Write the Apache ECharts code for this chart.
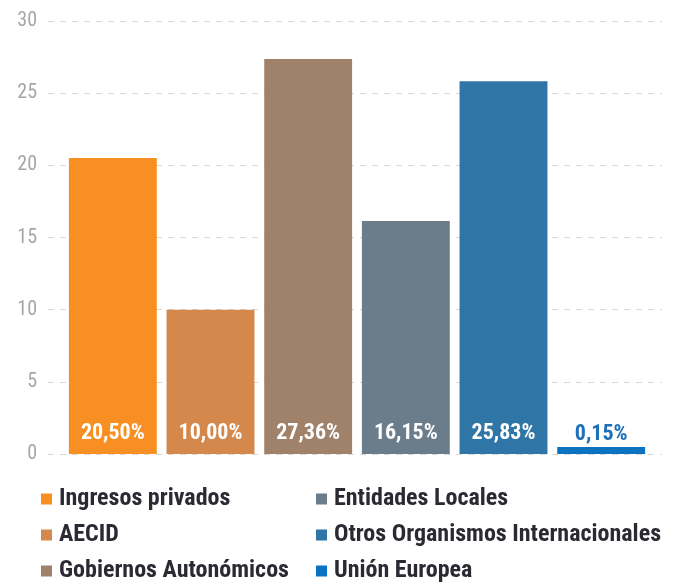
<!DOCTYPE html>
<html><head><meta charset="utf-8">
<script src="https://cdn.jsdelivr.net/npm/echarts@6/dist/echarts.min.js"></script>
<style>html,body{margin:0;padding:0;background:#fff}#c{width:684px;height:585px}</style>
</head><body><div id="c"></div>
<script>
var categories = ['Ingresos privados','AECID','Gobiernos Autonómicos','Entidades Locales','Otros Organismos Internacionales','Unión Europea'];
var values = [20.50, 10.00, 27.36, 16.15, 25.83, 0.15];
var labels = ['20,50%','10,00%','27,36%','16,15%','25,83%','0,15%'];
var colors = ['#F88F22','#D5884B','#A0826A','#6B7C8A','#2F76A6','#0B72C2'];
var yTicks = [0,5,10,15,20,25,30];

var FONT = "'Roboto Condensed',Roboto,sans-serif";
var chart = echarts.init(document.getElementById('c'));
var series = categories.map(function(name,i){
  var data = categories.map(function(_,j){ return j===i ? values[j] : null; });
  var last = i === categories.length-1;
  return {
    name: name, type: 'bar', stack: 'all', xAxisIndex: 1, yAxisIndex: 1,
    barWidth: '90%', barMinHeight: last ? 7 : 0,
    itemStyle: {color: colors[i]},
    data: data,
    label: {
      show: true,
      position: last ? 'top' : 'insideBottom',
      distance: last ? 2 : 10,
      formatter: function(){ return labels[i]; },
      color: last ? '#1C6FB8' : '#fff',
      fontFamily: FONT, fontWeight: 'bold', fontSize: 22
    }
  };
});
var legendText = {fontFamily: FONT, fontWeight: 'bold', fontSize: 24, color: '#2B2A33', padding: [0,0,0,2]};
chart.setOption({
  animation: false,
  backgroundColor: '#fff',
  grid: [
    {left: 48, right: 22, top: 21, bottom: 131},
    {left: 64, right: 34, top: 21, bottom: 131}
  ],
  xAxis: [
    {type: 'category', gridIndex: 0, data: categories, show: false},
    {type: 'category', gridIndex: 1, data: categories, show: false}
  ],
  yAxis: [
    {type: 'value', gridIndex: 0, min: 0, max: 30, interval: 5,
     axisLine: {show: false}, axisTick: {show: false},
     axisLabel: {color: '#A3A7AC', fontFamily: FONT, fontSize: 20, margin: 11,
       formatter: function(v){ return yTicks.indexOf(v) >= 0 ? String(v) : ''; }},
     splitLine: {lineStyle: {color: '#D8D8D8', type: [6,6], width: 1}}},
    {type: 'value', gridIndex: 1, min: 0, max: 30, interval: 5, show: false, splitLine:{show:false}}
  ],
  legend: [
    {data: categories.slice(0,3), orient: 'vertical', left: 41, top: 487, height: 140, padding: 0, itemGap: 12,
     itemWidth: 11, itemHeight: 11, icon: 'rect', textStyle: legendText},
    {data: categories.slice(3), orient: 'vertical', left: 316, top: 487, height: 140, padding: 0, itemGap: 12,
     itemWidth: 11, itemHeight: 11, icon: 'rect', textStyle: legendText}
  ],
  series: series
});
</script></body></html>
